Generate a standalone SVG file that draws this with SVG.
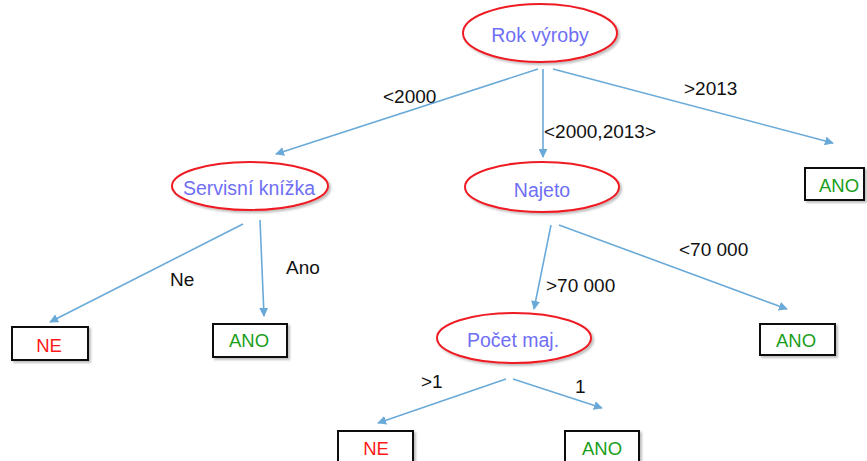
<svg xmlns="http://www.w3.org/2000/svg" width="867" height="461" viewBox="0 0 867 461">
  <defs>
    <style>
      .node ellipse { fill: #ffffff; stroke: #ee1c24; stroke-width: 2; filter: url(#shadow); }
      .node rect { fill: #ffffff; stroke: #111111; stroke-width: 2; filter: url(#shadow); }
      .q { font-family: "Liberation Sans", Arial, sans-serif; font-size: 19.5px; fill: #6f6ff5; text-anchor: middle; }
      .yes { font-family: "Liberation Sans", Arial, sans-serif; font-size: 18.5px; fill: #1a9e1a; text-anchor: middle; }
      .no { font-family: "Liberation Sans", Arial, sans-serif; font-size: 18.5px; fill: #ff1a1a; text-anchor: middle; }
      .edge { stroke: #6aaad8; stroke-width: 1.6; fill: none; marker-end: url(#arrow); }
      .lbl { font-family: "Liberation Sans", Arial, sans-serif; font-size: 19px; fill: #111111; }
    </style>
    <filter id="shadow" x="-20%" y="-20%" width="140%" height="150%">
      <feDropShadow dx="2" dy="2" stdDeviation="1.2" flood-color="#000000" flood-opacity="0.25"/>
    </filter>
    <marker id="arrow" viewBox="0 0 10 10" refX="9" refY="5" markerWidth="9" markerHeight="9" markerUnits="userSpaceOnUse" orient="auto">
      <path d="M0,0 L10,5 L0,10 z" fill="#6aaad8"/>
    </marker>
  </defs>

  <g id="connectors">
    <line class="edge" x1="538" y1="69" x2="276" y2="154"/>
    <line class="edge" x1="543" y1="69" x2="543" y2="157"/>
    <line class="edge" x1="553" y1="69" x2="833" y2="143"/>
    <line class="edge" x1="243" y1="224" x2="50" y2="322"/>
    <line class="edge" x1="260" y1="220" x2="264" y2="316"/>
    <line class="edge" x1="551" y1="225" x2="534" y2="309"/>
    <line class="edge" x1="559" y1="225" x2="787" y2="309"/>
    <line class="edge" x1="506" y1="379" x2="378" y2="423"/>
    <line class="edge" x1="513" y1="379" x2="602" y2="408"/>
    <text class="lbl" x="383" y="103">&lt;2000</text>
    <text class="lbl" x="544" y="138">&lt;2000,2013&gt;</text>
    <text class="lbl" x="684" y="95">&gt;2013</text>
    <text class="lbl" x="170" y="286">Ne</text>
    <text class="lbl" x="286" y="274">Ano</text>
    <text class="lbl" x="546" y="292">&gt;70 000</text>
    <text class="lbl" x="679" y="256">&lt;70 000</text>
    <text class="lbl" x="421" y="388">&gt;1</text>
    <text class="lbl" x="575" y="393">1</text>
  </g>

  <g id="rok-vyroby" class="node">
    <ellipse cx="540" cy="33" rx="77" ry="29"/>
    <text class="q" x="540" y="42">Rok výroby</text>
  </g>
  <g id="servisni-knizka" class="node">
    <ellipse cx="250" cy="186" rx="78" ry="24"/>
    <text class="q" x="249" y="195">Servisní knížka</text>
  </g>
  <g id="najeto" class="node">
    <ellipse cx="542" cy="187" rx="77" ry="25"/>
    <text class="q" x="542" y="197">Najeto</text>
  </g>
  <g id="pocet-maj" class="node">
    <ellipse cx="514" cy="338" rx="77" ry="25"/>
    <text class="q" x="513" y="347">Počet maj.</text>
  </g>

  <g id="leaf-ano-top" class="node">
    <rect x="805" y="168" width="59" height="32"/>
    <text class="yes" x="839" y="192">ANO</text>
  </g>
  <g id="leaf-ne-left" class="node">
    <rect x="12" y="327" width="76" height="33"/>
    <text class="no" x="49" y="352">NE</text>
  </g>
  <g id="leaf-ano-left" class="node">
    <rect x="213" y="324" width="74" height="33"/>
    <text class="yes" x="249" y="347">ANO</text>
  </g>
  <g id="leaf-ano-right" class="node">
    <rect x="760" y="324" width="75" height="31"/>
    <text class="yes" x="796" y="347">ANO</text>
  </g>
  <g id="leaf-ne-bottom" class="node">
    <rect x="338" y="431" width="75" height="36"/>
    <text class="no" x="376" y="455">NE</text>
  </g>
  <g id="leaf-ano-bottom" class="node">
    <rect x="565" y="431" width="74" height="36"/>
    <text class="yes" x="602" y="455">ANO</text>
  </g>
</svg>
